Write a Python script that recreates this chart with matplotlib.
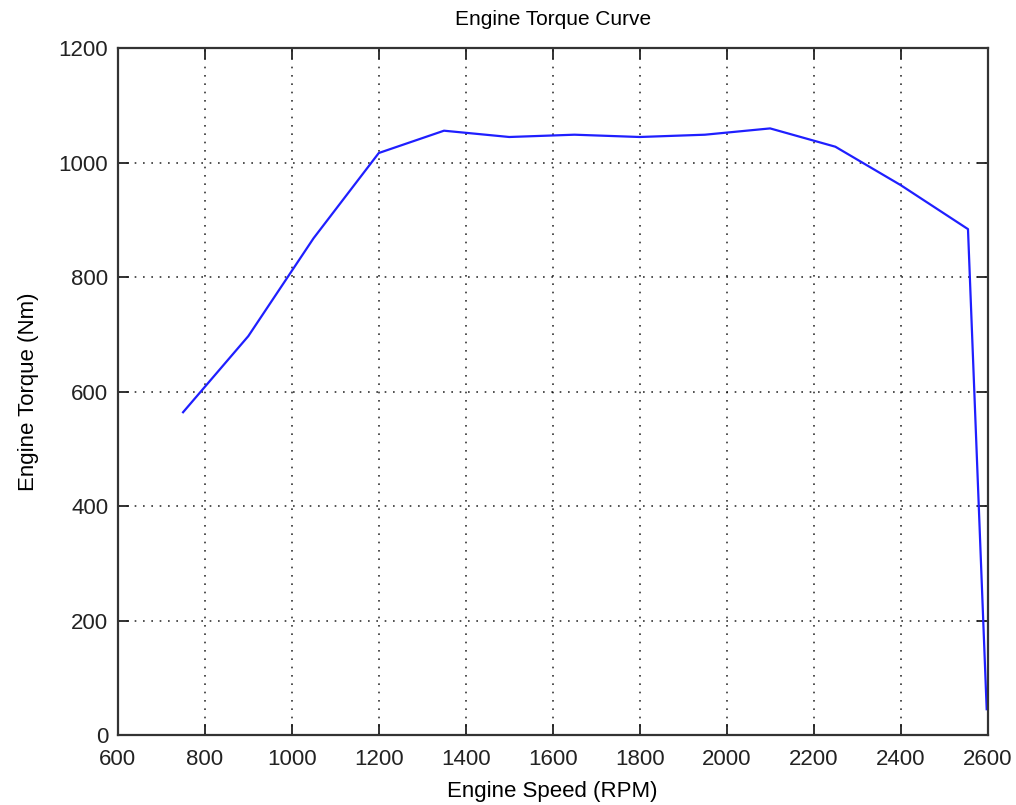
import matplotlib.pyplot as plt

# engine speed (RPM) and torque (Nm)
rpm = [750, 900, 1050, 1200, 1350, 1500, 1650, 1800, 1950, 2100, 2250, 2400, 2555, 2598]
torque = [564, 697, 868, 1017, 1056, 1045, 1049, 1045, 1049, 1060, 1028, 961, 884, 45]

plt.rcParams['font.family'] = ['Liberation Sans', 'DejaVu Sans']

fig = plt.figure(figsize=(10.16, 8.05), dpi=100)
ax = fig.add_axes([0.116, 0.087, 0.856, 0.853])

ax.plot(rpm, torque, color='#1f1fff', linewidth=1.6)

ax.set_xlim(600, 2600)
ax.set_ylim(0, 1200)
ax.set_xticks(range(600, 2601, 200))
ax.set_yticks(range(0, 1201, 200))

ax.grid(True, linestyle=(0, (1, 4)), color='black', linewidth=1.2, alpha=0.8)
ax.tick_params(direction='in', length=8, width=1.3, top=True, right=True,
               labelsize=16, colors='#222222')
ax.tick_params(axis='x', pad=10)
ax.tick_params(axis='y', pad=7)
for s in ax.spines.values():
    s.set_linewidth(1.6)
    s.set_color('#333333')

ax.set_title('Engine Torque Curve', fontsize=15, pad=17)
ax.set_xlabel('Engine Speed (RPM)', fontsize=16, labelpad=8)
ax.set_ylabel('Engine Torque (Nm)', fontsize=16, labelpad=14)

fig.savefig('out.png', dpi=100, facecolor='white')
